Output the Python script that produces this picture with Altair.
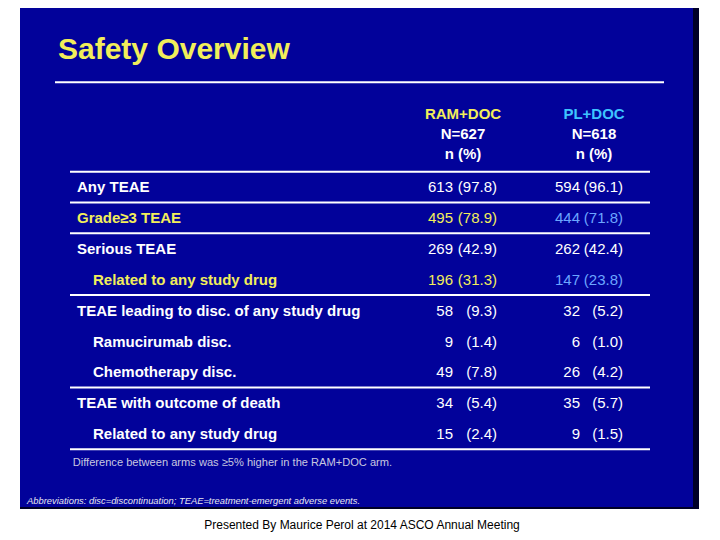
import altair as alt
import pandas as pd

# ---------------- data ----------------
labels = [
    "Any TEAE",
    "Grade\u22653 TEAE",
    "Serious TEAE",
    "Related to any study drug",
    "TEAE leading to disc. of any study drug",
    "Ramucirumab disc.",
    "Chemotherapy disc.",
    "TEAE with outcome of death",
    "Related to any study drug",
]
levels = [0, 0, 0, 1, 0, 1, 1, 0, 1]
ram_n = [613, 495, 269, 196, 58, 9, 49, 34, 15]
ram_pct = [97.8, 78.9, 42.9, 31.3, 9.3, 1.4, 7.8, 5.4, 2.4]
pl_n = [594, 444, 262, 147, 32, 6, 26, 35, 9]
pl_pct = [96.1, 71.8, 42.4, 23.8, 5.2, 1.0, 4.2, 5.7, 1.5]
highlight = [False, True, False, True, False, False, False, False, False]
sep_after = [-1, 0, 1, 3, 6, 8]  # -1 = line under the column headers

arms = ["RAM+DOC", "PL+DOC"]
arm_n = ["N=627", "N=618"]
unit = "n (%)"
title = "Safety Overview"
footnote = "Difference between arms was \u22655% higher in the RAM+DOC arm."
abbrev = "Abbreviations: disc=discontinuation; TEAE=treatment-emergent adverse events."
credit = "Presented By Maurice Perol at 2014 ASCO Annual Meeting"

# ---------------- styling ----------------
W, H = 704, 524
FONT = "Liberation Sans"
BLUE = "#02029A"
YELLOW = "#F2EE5A"
CYAN = "#3EC4FF"
LIGHTBLUE = "#6CA6FF"
WHITE = "#FFFFFF"

rows = pd.DataFrame({
    "row": list(range(len(labels))),
    "label": labels,
    "level": levels,
    "ram_n": [str(v) for v in ram_n],
    "ram_p": [f"({v:.1f})" for v in ram_pct],
    "pl_n": [str(v) for v in pl_n],
    "pl_p": [f"({v:.1f})" for v in pl_pct],
    "hl": highlight,
})

seps = pd.DataFrame({"pos": [(-0.67 if s < 0 else s + 0.33) for s in sep_after]})

yscale = alt.Scale(domain=[0, 8], range=[184.3, 431.1])
one = pd.DataFrame({"a": [0]})

# slide background
shadow = alt.Chart(one).mark_rect(color="#000028").encode(
    x=alt.value(12), x2=alt.value(691), y=alt.value(0), y2=alt.value(501))
slide = alt.Chart(one).mark_rect(color=BLUE).encode(
    x=alt.value(12), x2=alt.value(685), y=alt.value(0), y2=alt.value(499))

title_t = alt.Chart(pd.DataFrame({"t": [title]})).mark_text(
    align="left", baseline="alphabetic", font=FONT, fontSize=30, fontWeight="bold", color=YELLOW
).encode(text="t:N", x=alt.value(50), y=alt.value(51.3))

title_rule = alt.Chart(one).mark_rule(color=WHITE, strokeWidth=2).encode(
    x=alt.value(47), x2=alt.value(656), y=alt.value(74.3))

hdr = pd.DataFrame({
    "arm": arms, "n": arm_n, "u": [unit, unit],
    "col": [0, 1],
})
hx = alt.X("col:Q", scale=alt.Scale(domain=[0, 1], range=[455, 586]), axis=None)
hdr_arm = alt.Chart(hdr).mark_text(
    align="center", baseline="alphabetic", font=FONT, fontSize=15, fontWeight="bold"
).encode(x=hx, y=alt.value(111), text="arm:N",
         color=alt.Color("arm:N", scale=alt.Scale(domain=arms, range=[YELLOW, CYAN]), legend=None))
hdr_n = alt.Chart(hdr).mark_text(
    align="center", baseline="alphabetic", font=FONT, fontSize=15, fontWeight="bold", color=WHITE
).encode(x=hx, y=alt.value(131.3), text="n:N")
hdr_u = alt.Chart(hdr).mark_text(
    align="center", baseline="alphabetic", font=FONT, fontSize=15, fontWeight="bold", color=WHITE
).encode(x=hx, y=alt.value(151.3), text="u:N")

rules = alt.Chart(seps).mark_rule(color=WHITE, strokeWidth=2).encode(
    y=alt.Y("pos:Q", scale=yscale, axis=None), x=alt.value(62), x2=alt.value(642))

base = alt.Chart(rows)
ypos = alt.Y("row:Q", scale=yscale, axis=None)

label_t = base.mark_text(
    align="left", baseline="alphabetic", font=FONT, fontSize=15, fontWeight="bold"
).encode(
    x=alt.X("level:Q", scale=alt.Scale(domain=[0, 1], range=[69, 85]), axis=None),
    y=ypos, text="label:N",
    color=alt.condition("datum.hl", alt.value(YELLOW), alt.value(WHITE)),
)

def val(field, xpx, hlcolor):
    return base.mark_text(
        align="right", baseline="alphabetic", font=FONT, fontSize=15
    ).encode(
        x=alt.value(xpx), y=ypos, text=f"{field}:N",
        color=alt.condition("datum.hl", alt.value(hlcolor), alt.value(WHITE)),
    )

v1 = val("ram_n", 445, YELLOW)
v2 = val("ram_p", 489, YELLOW)
v3 = val("pl_n", 572, LIGHTBLUE)
v4 = val("pl_p", 615, LIGHTBLUE)

foot_t = alt.Chart(pd.DataFrame({"t": [footnote]})).mark_text(
    align="left", baseline="alphabetic", font=FONT, fontSize=11.1, color="#C8C8E0"
).encode(text="t:N", x=alt.value(64.7), y=alt.value(458))

abbr_t = alt.Chart(pd.DataFrame({"t": [abbrev]})).mark_text(
    align="left", baseline="alphabetic", font=FONT, fontSize=9.4, fontStyle="italic", color="#E8E8F0"
).encode(text="t:N", x=alt.value(19), y=alt.value(496))

credit_t = alt.Chart(pd.DataFrame({"t": [credit]})).mark_text(
    align="center", baseline="alphabetic", font=FONT, fontSize=12, color="#000000"
).encode(text="t:N", x=alt.value(354), y=alt.value(521))

chart = alt.layer(
    shadow, slide, title_t, title_rule, hdr_arm, hdr_n, hdr_u, rules,
    label_t, v1, v2, v3, v4, foot_t, abbr_t, credit_t,
).resolve_scale(x="independent", color="independent").properties(
    width=W, height=H, padding=0, autosize=alt.AutoSizeParams(type="none"),
    background="white",
).configure_view(stroke=None)

chart.save("out.html", embed_options={"renderer": "svg", "actions": False})
